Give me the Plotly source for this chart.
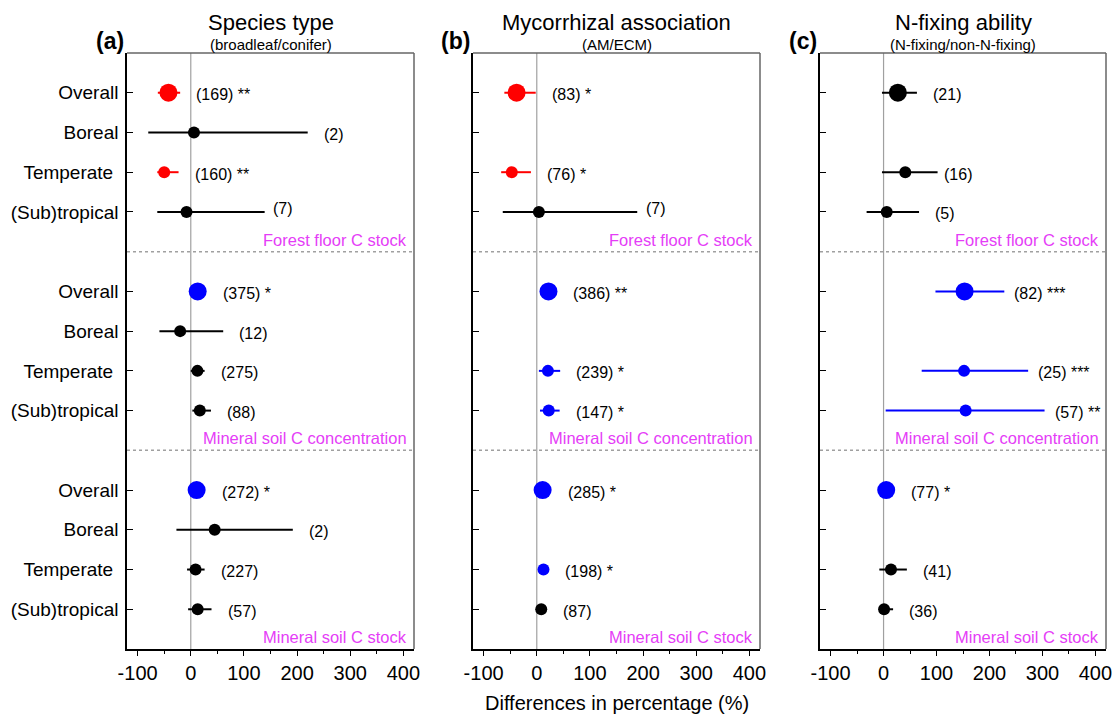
import plotly.graph_objects as go

# ---------------- data ----------------
row_labels = ["Overall", "Boreal", "Temperate\u00a0", "(Sub)tropical"] * 3
row_pos = [1, 2, 3, 4, 6, 7, 8, 9, 11, 12, 13, 14]
group_labels = ["Forest floor C stock", "Mineral soil C concentration", "Mineral soil C stock"]
panel_letters = ["(a)", "(b)", "(c)"]
panel_titles = ["Species type", "Mycorrhizal association", "N-fixing ability"]
panel_subtitles = ["(broadleaf/conifer)", "(AM/ECM)", "(N-fixing/non-N-fixing)"]

# Panel (a) species type
a_mean = [-42, 6, -50, -8, 13, -20, 12.5, 17, 11, 45, 9, 13]
a_lo = [-62, -80, -63, -63, 1, -59, 0, 3, 1, -27, -7, -5]
a_hi = [-20, 220, -23, 139, 25, 61, 26, 38, 22, 192, 26, 39]
a_n = [169, 2, 160, 7, 375, 12, 275, 88, 272, 2, 227, 57]
a_sig = ["**", "", "**", "", "*", "", "", "", "*", "", "", ""]

# Panel (b) mycorrhizal association
b_mean = [-38, None, -47, 4, 22, None, 21, 22.5, 11, None, 12.6, 8.4]
b_lo = [-61, None, -67, -64, 10, None, 4, 6, 2, None, 6, 2]
b_hi = [-2, None, -11, 189, 34, None, 44, 43, 20, None, 20, 15]
b_n = [83, None, 76, 7, 386, None, 239, 147, 285, None, 198, 87]
b_sig = ["*", "", "*", "", "**", "", "*", "*", "*", "", "*", ""]

# Panel (c) N-fixing ability
c_mean = [27, None, 41, 6, 153, None, 152, 155, 5, None, 14, 1]
c_lo = [-3, None, -3, -32, 98, None, 72, 4, -5, None, -8, -8]
c_hi = [63, None, 102, 67, 228, None, 273, 304, 15, None, 44, 18]
c_n = [21, None, 16, 5, 82, None, 25, 57, 77, None, 41, 36]
c_sig = ["", "", "", "", "***", "", "***", "**", "*", "", "", ""]

panels = [
    (a_mean, a_lo, a_hi, a_n, a_sig),
    (b_mean, b_lo, b_hi, b_n, b_sig),
    (c_mean, c_lo, c_hi, c_n, c_sig),
]

x_ticks = [-100, 0, 100, 200, 300, 400]
x_ticktext = ["-100", "0", "100", "200", "300", "400"]
x_minor = [-50, 50, 150, 250, 350]

# ---------------- style / layout ----------------
W, H = 1118, 715
FONT = "Liberation Sans, Arial, sans-serif"
MAGENTA = "#E53DF7"
RED, BLUE, BLACK = "#FF0000", "#0000FF", "#000000"
dom_px = [(127, 414), (473, 760), (820, 1106)]
top_px, bot_px = 53, 649
XR = [-120, 420]
px_per_unit = (dom_px[0][1] - dom_px[0][0]) / (XR[1] - XR[0])

# label tweaks (panel, row) -> (xshift, yshift)
tweaks = {(0, 3): (6, 5), (1, 3): (7, 5), (2, 2): (4, 0),
          (2, 4): (8, 0), (2, 6): (8, 0), (2, 7): (8, 0)}

fig = go.Figure()
annotations = []
shapes = []

for p, (mean, lo, hi, n, sig) in enumerate(panels):
    xa = "x" if p == 0 else f"x{p+1}"
    ya = "y" if p == 0 else f"y{p+1}"
    for i in range(len(row_pos)):
        m = mean[i]
        if m is None:
            continue
        if sig[i]:
            col = RED if m < 0 else BLUE
        else:
            col = BLACK
        overall = (i % 4 == 0)
        size = 18 if overall else 12
        fig.add_trace(go.Scatter(
            x=[m], y=[row_pos[i]], mode="markers", xaxis=xa, yaxis=ya,
            marker=dict(size=size, color=col, line=dict(width=0)),
            error_x=dict(type="data", symmetric=False, array=[hi[i] - m],
                         arrayminus=[m - lo[i]], color=col, thickness=2, width=0),
            showlegend=False, hoverinfo="skip"))
        r_units = (size / 2) / px_per_unit
        lx = max(hi[i], m + r_units)
        xs, ys = tweaks.get((p, i), (14, 0))
        txt = f"({n[i]})" + (f" {sig[i]}" if sig[i] else "")
        annotations.append(dict(x=lx, y=row_pos[i], xref=xa, yref=ya, text=txt,
                                showarrow=False, xanchor="left", yanchor="middle",
                                xshift=xs, yshift=ys - 2,
                                font=dict(family=FONT, size=16, color="black")))
    # group labels
    for g, gl in enumerate(group_labels):
        annotations.append(dict(x=1, y=4.7 + 5 * g, xref=f"{xa} domain", yref=ya, text=gl,
                                showarrow=False, xanchor="right", yanchor="middle",
                                xshift=-5, font=dict(family=FONT, size=16.5, color=MAGENTA)))
    # zero line
    shapes.append(dict(type="line", x0=0, x1=0, xref=xa, y0=0, y1=1, yref=f"{ya} domain",
                       line=dict(color="#A0A0A0", width=1.2), layer="below"))
    # dotted separators
    for yv in (5, 10):
        shapes.append(dict(type="line", x0=0, x1=1, xref=f"{xa} domain", y0=yv, y1=yv, yref=ya,
                           line=dict(color="#A0A0A0", width=1.5, dash="dot"), layer="below"))
    # top and right frame
    shapes.append(dict(type="line", x0=0, x1=1, xref=f"{xa} domain", y0=1, y1=1, yref=f"{ya} domain",
                       line=dict(color="#666666", width=1.5)))
    shapes.append(dict(type="line", x0=1, x1=1, xref=f"{xa} domain", y0=0, y1=1, yref=f"{ya} domain",
                       line=dict(color="#666666", width=1.5)))

    l, r = dom_px[p]
    cx = (l + r) / 2 / W
    annotations.append(dict(x=cx, y=1 - 22 / H, xref="paper", yref="paper", text=panel_titles[p],
                            showarrow=False, xanchor="center", yanchor="middle",
                            font=dict(family=FONT, size=22, color="black")))
    annotations.append(dict(x=cx, y=1 - 45 / H, xref="paper", yref="paper", text=panel_subtitles[p],
                            showarrow=False, xanchor="center", yanchor="middle",
                            font=dict(family=FONT, size=15, color="black")))
    annotations.append(dict(x=(l - 1) / W, y=1 - 41 / H, xref="paper", yref="paper",
                            text=f"<b>{panel_letters[p]}</b>",
                            showarrow=False, xanchor="right", yanchor="middle",
                            font=dict(family=FONT, size=23, color="black")))

    xkey = "xaxis" if p == 0 else f"xaxis{p+1}"
    ykey = "yaxis" if p == 0 else f"yaxis{p+1}"
    fig.update_layout(**{
        xkey: dict(domain=[l / W, r / W], anchor=ya, range=XR, tickvals=x_ticks,
                   ticktext=x_ticktext,
                   ticks="outside", ticklen=5, tickwidth=1.2, tickcolor="black",
                   minor=dict(tickvals=x_minor, ticks="outside", ticklen=3, tickwidth=1.2,
                              tickcolor="black"),
                   showline=True, linecolor="black", linewidth=1.5, showgrid=False,
                   zeroline=False, automargin=False,
                   tickfont=dict(family=FONT, size=20, color="black")),
        ykey: dict(domain=[1 - bot_px / H, 1 - top_px / H], anchor=xa, range=[15, 0],
                   tickvals=row_pos, ticktext=row_labels if p == 0 else [""] * len(row_pos),
                   showticklabels=(p == 0), ticklabelstandoff=3,
                   ticks="inside", ticklen=6, tickwidth=1.2, tickcolor="black",
                   showline=True, linecolor="black", linewidth=1.5, showgrid=False,
                   zeroline=False, automargin=False,
                   tickfont=dict(family=FONT, size=19, color="black")),
    })

annotations.append(dict(x=(dom_px[1][0] + dom_px[1][1]) / 2 / W, y=1 - 703 / H, xref="paper",
                        yref="paper", text="Differences in percentage (%)", showarrow=False,
                        xanchor="center", yanchor="middle",
                        font=dict(family=FONT, size=20, color="black")))

fig.update_layout(width=W, height=H, margin=dict(l=0, r=0, t=0, b=0),
                  paper_bgcolor="white", plot_bgcolor="white",
                  annotations=annotations, shapes=shapes, template=None)

fig.write_html("out.html", config={"displayModeBar": False},
               post_script="document.body.style.margin='0';document.body.style.overflow='hidden';")
